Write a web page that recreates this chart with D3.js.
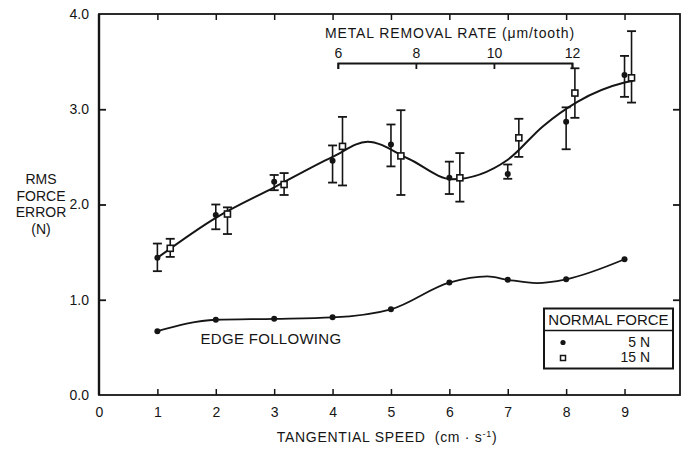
<!DOCTYPE html>
<html>
<head>
<meta charset="utf-8">
<script src="https://cdn.jsdelivr.net/npm/d3@7"></script>
<style>
  html, body { margin: 0; padding: 0; background: #fff; }
  svg { display: block; font-family: "Liberation Sans", Arial, Helvetica, sans-serif; }
  text { fill: #151515; }
</style>
</head>
<body>
<div id="chart"></div>
<script>
// ---------- data ----------
const xTicks = [0, 1, 2, 3, 4, 5, 6, 7, 8, 9];
const yTicks = [0, 1, 2, 3, 4];
const mrrTicks = [6, 8, 10, 12];

// 5 N normal force (filled dots)
const speed5 = [1, 2, 3, 4, 5, 6, 7, 8, 9];
const rms5 = [1.44, 1.89, 2.24, 2.46, 2.63, 2.28, 2.32, 2.87, 3.36];
const rms5Lo = [1.30, 1.74, 2.15, 2.23, 2.40, 2.11, 2.27, 2.58, 3.13];
const rms5Hi = [1.59, 2.00, 2.31, 2.62, 2.84, 2.45, 2.42, 3.02, 3.56];

// 15 N normal force (open squares)
const speed15 = [1.22, 2.2, 3.17, 4.17, 5.17, 6.18, 7.19, 8.15, 9.12];
const rms15 = [1.54, 1.90, 2.21, 2.61, 2.51, 2.28, 2.70, 3.17, 3.33];
const rms15Lo = [1.45, 1.69, 2.10, 2.20, 2.10, 2.03, 2.50, 2.91, 3.07];
const rms15Hi = [1.64, 1.97, 2.33, 2.92, 2.99, 2.54, 2.90, 3.43, 3.82];

// fitted curve through the force-controlled data
const fitSpeed = [1, 2, 3, 4, 4.6, 5.3, 6.05, 7, 7.6, 8.2, 9, 9.15];
const fitRms = [1.44, 1.86, 2.18, 2.5, 2.66, 2.48, 2.265, 2.47, 2.82, 3.08, 3.28, 3.30];

// edge following
const edgeSpeed = [1, 2, 3, 4, 5, 6, 7, 8, 9];
const edgeRms = [0.67, 0.79, 0.80, 0.815, 0.90, 1.18, 1.21, 1.215, 1.425];
const edgeFitSpeed = [1, 2, 3, 4, 5, 6, 6.65, 7, 7.5, 8, 9];
const edgeFitRms = [0.67, 0.79, 0.80, 0.815, 0.90, 1.18, 1.245, 1.21, 1.175, 1.215, 1.425];

// metal removal rate axis spans these tangential speeds
const mrrDomain = [6, 12];
const mrrSpeedSpan = [4.09, 8.10];

// ---------- layout ----------
const W = 691, H = 452;
const svg = d3.select("#chart").append("svg").attr("width", W).attr("height", H);
svg.append("rect").attr("width", W).attr("height", H).attr("fill", "#fff");

const x = d3.scaleLinear().domain([0, 9.95]).range([99, 680]);
const y = d3.scaleLinear().domain([0, 4]).range([395, 14]);
const mrr = d3.scaleLinear().domain(mrrDomain).range(mrrSpeedSpan.map(x));

const ink = "#151515";
const fmt = d3.format(".1f");

// frame
svg.append("rect")
  .attr("x", x(0)).attr("y", y(4))
  .attr("width", x.range()[1] - x(0)).attr("height", y(0) - y(4))
  .attr("fill", "none").attr("stroke", ink).attr("stroke-width", 1.8);
svg.append("line").attr("x1", x(0)).attr("x2", x(0)).attr("y1", y(4)).attr("y2", y(0))
  .attr("stroke", ink).attr("stroke-width", 2.4);

// bottom axis
const xAxisB = d3.axisBottom(x).tickValues(xTicks).tickSizeInner(-6).tickSizeOuter(0).tickPadding(12).tickFormat(d3.format("d"));
const gxb = svg.append("g").attr("transform", `translate(0,${y(0)})`).call(xAxisB);
gxb.select(".domain").remove();
gxb.selectAll(".tick line").attr("stroke", ink).attr("stroke-width", 1.5).filter(d => d === 0).remove();
gxb.selectAll(".tick text").attr("font-size", 14).attr("fill", ink);

// top axis (ticks only)
const xAxisT = d3.axisTop(x).tickValues(xTicks.filter(d => d > 0)).tickSizeInner(-6).tickSizeOuter(0).tickFormat("");
const gxt = svg.append("g").attr("transform", `translate(0,${y(4)})`).call(xAxisT);
gxt.select(".domain").remove();
gxt.selectAll(".tick line").attr("stroke", ink).attr("stroke-width", 1.5);

// left axis
const yAxisL = d3.axisLeft(y).tickValues(yTicks).tickSizeInner(-7).tickSizeOuter(0).tickPadding(10).tickFormat(fmt);
const gyl = svg.append("g").attr("transform", `translate(${x(0)},0)`).call(yAxisL);
gyl.select(".domain").remove();
gyl.selectAll(".tick line").attr("stroke", ink).attr("stroke-width", 1.8).filter(d => d === 0 || d === 4).remove();
gyl.selectAll(".tick text").attr("font-size", 14).attr("fill", ink);

// right axis (ticks only)
const yAxisR = d3.axisRight(y).tickValues(yTicks.filter(d => d > 0 && d < 4)).tickSizeInner(-7).tickSizeOuter(0).tickFormat("");
const gyr = svg.append("g").attr("transform", `translate(${x.range()[1]},0)`).call(yAxisR);
gyr.select(".domain").remove();
gyr.selectAll(".tick line").attr("stroke", ink).attr("stroke-width", 1.8);

// axis titles
svg.append("text").attr("x", 387).attr("y", 442).attr("text-anchor", "middle")
  .attr("font-size", 14).attr("letter-spacing", 0.7)
  .html('TANGENTIAL SPEED&#160;&#160;(cm · s<tspan dy="-5" font-size="9">-1</tspan><tspan dy="5">)</tspan>');

const yl = svg.append("text").attr("text-anchor", "middle").attr("font-size", 14);
["RMS", "FORCE", "ERROR", "(N)"].forEach((t, i) => {
  yl.append("tspan").attr("x", 41).attr("y", 184 + i * 16.5).text(t);
});

// metal removal rate axis
const mrrAxis = d3.axisTop(mrr).tickValues(mrrTicks).tickSizeInner(-6).tickSizeOuter(-6).tickPadding(5).tickFormat(d3.format("d"));
const gm = svg.append("g").attr("transform", "translate(0,63)").call(mrrAxis);
gm.select(".domain").attr("stroke", ink).attr("stroke-width", 1.8);
gm.selectAll(".tick line").attr("stroke", ink).attr("stroke-width", 1.8);
gm.selectAll(".tick text").attr("font-size", 14).attr("fill", ink).attr("dy", "0");
svg.append("text").attr("x", 450).attr("y", 38).attr("text-anchor", "middle")
  .attr("font-size", 14).attr("letter-spacing", 0.9)
  .text("METAL REMOVAL RATE (μm/tooth)");

// ---------- marks ----------
const fitLine = d3.line().x(d => x(d[0])).y(d => y(d[1])).curve(d3.curveMonotoneX);
svg.append("path")
  .datum(fitSpeed.map((s, i) => [s, fitRms[i]]))
  .attr("d", fitLine).attr("fill", "none").attr("stroke", ink).attr("stroke-width", 2);

const edgeLine = d3.line().x(d => x(d[0])).y(d => y(d[1])).curve(d3.curveMonotoneX);
svg.append("path")
  .datum(edgeFitSpeed.map((s, i) => [s, edgeFitRms[i]]))
  .attr("d", edgeLine).attr("fill", "none").attr("stroke", ink).attr("stroke-width", 1.8);

svg.selectAll(".edgeDot").data(edgeSpeed.map((s, i) => [s, edgeRms[i]])).enter()
  .append("circle").attr("cx", d => x(d[0])).attr("cy", d => y(d[1])).attr("r", 3).attr("fill", ink);

function errorBars(xs, lo, hi, cls) {
  const data = xs.map((s, i) => ({ s, lo: lo[i], hi: hi[i] }));
  const eg = svg.append("g").attr("class", cls);
  eg.selectAll("line.v").data(data).enter().append("line").attr("class", "v")
    .attr("x1", d => x(d.s)).attr("x2", d => x(d.s))
    .attr("y1", d => y(d.lo)).attr("y2", d => y(d.hi))
    .attr("stroke", ink).attr("stroke-width", 1.6);
  ["lo", "hi"].forEach(k => {
    eg.selectAll("line." + k).data(data).enter().append("line").attr("class", k)
      .attr("x1", d => x(d.s) - 4.5).attr("x2", d => x(d.s) + 4.5)
      .attr("y1", d => y(d[k])).attr("y2", d => y(d[k]))
      .attr("stroke", ink).attr("stroke-width", 1.8);
  });
}
errorBars(speed5, rms5Lo, rms5Hi, "eb5");
errorBars(speed15, rms15Lo, rms15Hi, "eb15");

svg.selectAll(".dot5").data(speed5.map((s, i) => [s, rms5[i]])).enter()
  .append("circle").attr("cx", d => x(d[0])).attr("cy", d => y(d[1])).attr("r", 3).attr("fill", ink);

const sq = 6;
svg.selectAll(".sq15").data(speed15.map((s, i) => [s, rms15[i]])).enter()
  .append("rect").attr("x", d => x(d[0]) - sq / 2).attr("y", d => y(d[1]) - sq / 2)
  .attr("width", sq).attr("height", sq)
  .attr("fill", "#fff").attr("stroke", ink).attr("stroke-width", 1.6);

// label
svg.append("text").attr("x", 271).attr("y", 344).attr("text-anchor", "middle")
  .attr("font-size", 15).attr("letter-spacing", 0.3).text("EDGE FOLLOWING");

// ---------- legend ----------
const lg = svg.append("g");
lg.append("rect").attr("x", 544).attr("y", 308.5).attr("width", 129).attr("height", 60)
  .attr("fill", "#fff").attr("stroke", ink).attr("stroke-width", 2);
lg.append("line").attr("x1", 544).attr("x2", 673).attr("y1", 330.5).attr("y2", 330.5)
  .attr("stroke", ink).attr("stroke-width", 1.6);
lg.append("text").attr("x", 608.5).attr("y", 325).attr("text-anchor", "middle")
  .attr("font-size", 15).text("NORMAL FORCE");
lg.append("circle").attr("cx", 563).attr("cy", 342.5).attr("r", 2.6).attr("fill", ink);
lg.append("rect").attr("x", 560.5).attr("y", 355.5).attr("width", 5).attr("height", 5)
  .attr("fill", "#fff").attr("stroke", ink).attr("stroke-width", 1.5);
lg.append("text").attr("x", 650).attr("y", 347).attr("text-anchor", "end").attr("font-size", 14).text("5 N");
lg.append("text").attr("x", 650).attr("y", 362).attr("text-anchor", "end").attr("font-size", 14).text("15 N");
</script>
</body>
</html>
